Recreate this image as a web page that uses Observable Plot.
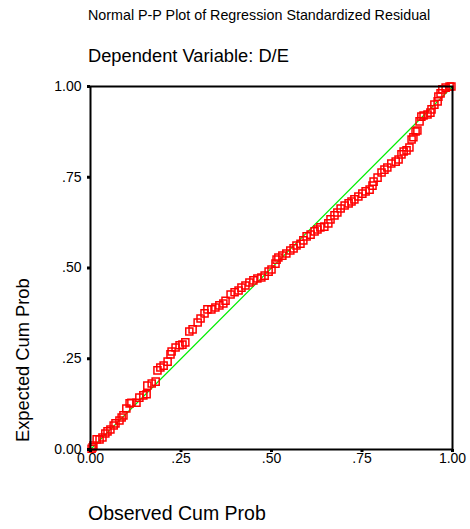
<!DOCTYPE html>
<html><head><meta charset="utf-8">
<script src="https://cdn.jsdelivr.net/npm/d3@7"></script>
<script src="https://cdn.jsdelivr.net/npm/@observablehq/plot@0.6"></script>
<style>body{margin:0;background:#fff;} #c{position:absolute;left:0;top:0;}</style>
</head><body><div id="c"></div>
<script>
const observed = [0.003,0.006,0.008,0.017,0.025,0.033,0.041,0.047,0.055,0.064,0.069,0.080,0.086,0.091,0.099,0.108,0.113,0.127,0.135,0.146,0.155,0.157,0.169,0.180,0.185,0.193,0.202,0.213,0.221,0.224,0.235,0.246,0.254,0.262,0.273,0.282,0.296,0.304,0.315,0.323,0.334,0.345,0.356,0.367,0.373,0.387,0.398,0.409,0.417,0.428,0.439,0.450,0.461,0.472,0.481,0.492,0.500,0.511,0.514,0.519,0.530,0.541,0.552,0.561,0.569,0.580,0.588,0.597,0.608,0.619,0.627,0.635,0.646,0.657,0.663,0.674,0.682,0.691,0.702,0.713,0.721,0.729,0.740,0.751,0.760,0.771,0.779,0.782,0.793,0.804,0.812,0.820,0.831,0.843,0.851,0.859,0.865,0.873,0.881,0.887,0.892,0.898,0.903,0.909,0.914,0.920,0.931,0.939,0.942,0.950,0.959,0.961,0.967,0.972,0.981,0.992,0.997];
const expected = [0.002,0.006,0.011,0.028,0.028,0.033,0.044,0.050,0.055,0.066,0.072,0.080,0.088,0.094,0.113,0.127,0.129,0.129,0.143,0.149,0.152,0.176,0.182,0.187,0.218,0.226,0.231,0.242,0.262,0.270,0.281,0.287,0.289,0.295,0.325,0.331,0.350,0.361,0.375,0.386,0.386,0.391,0.397,0.402,0.410,0.427,0.433,0.438,0.446,0.452,0.460,0.466,0.471,0.474,0.479,0.490,0.496,0.512,0.523,0.529,0.534,0.540,0.548,0.554,0.562,0.567,0.576,0.587,0.592,0.601,0.606,0.612,0.614,0.623,0.634,0.645,0.653,0.664,0.672,0.678,0.683,0.689,0.697,0.705,0.711,0.716,0.727,0.738,0.749,0.763,0.771,0.777,0.788,0.793,0.799,0.813,0.821,0.824,0.832,0.854,0.860,0.876,0.879,0.904,0.917,0.920,0.923,0.928,0.937,0.950,0.959,0.972,0.981,0.992,0.997,1.000,1.000];
const tickValues = [0, 0.25, 0.5, 0.75, 1];
const tickLabels = ["0.00", ".25", ".50", ".75", "1.00"];
const diagonal = [[0,0],[1,1]];
const titleText = "Normal P-P Plot of Regression Standardized Residual";
const subtitleText = "Dependent Variable: D/E";
const xLabel = "Observed Cum Prob";
const yLabel = "Expected Cum Prob";

const pts = observed.map((o, i) => ({o, e: expected[i]}));
const fmt = v => tickLabels[tickValues.indexOf(v)];

const chart = Plot.plot({
  width: 470, height: 529,
  marginLeft: 90, marginRight: 18, marginTop: 86, marginBottom: 80,
  style: {fontFamily: "Liberation Sans, Arial, sans-serif", fontSize: "14px", color: "#000", background: "#fff"},
  x: {domain: [0, 1], ticks: tickValues, tickFormat: fmt, label: null},
  y: {domain: [0, 1], ticks: tickValues, tickFormat: fmt, label: null},
  marks: [
    Plot.line(diagonal, {x: d => d[0], y: d => d[1], stroke: "#00ee00", strokeWidth: 1.2}),
    Plot.dot(pts, {x: "o", y: "e", symbol: "square", r: 4, stroke: "#ff0000", strokeWidth: 1.5, fill: "none"}),
    Plot.frame({stroke: "#000", strokeWidth: 2}),
    Plot.axisX({ticks: tickValues, tickFormat: fmt, tickSize: 3, strokeWidth: 3, tickPadding: 1, fontSize: 14, label: null}),
    Plot.axisY({ticks: tickValues, tickFormat: fmt, tickSize: 3, strokeWidth: 3, tickPadding: 6, fontSize: 14, label: null})
  ]
});
document.getElementById("c").appendChild(chart);
const svg = d3.select(chart);
const addText = (x, y, txt, size, family, transform) => {
  const t = svg.append("text").attr("text-anchor", "start").attr("font-family", family).attr("font-size", size).attr("fill", "#000").text(txt);
  if (transform) t.attr("transform", transform); else t.attr("x", x).attr("y", y);
};
addText(88, 20, titleText, 14.3, "Liberation Sans Narrow, Arial Narrow, sans-serif");
addText(88, 62, subtitleText, 18.3, "Liberation Sans, Arial, sans-serif");
addText(88, 520, xLabel, 19.5, "Liberation Sans, Arial, sans-serif");
addText(0, 0, yLabel, 18.3, "Liberation Sans, Arial, sans-serif", "translate(29,442) rotate(-90)");
</script></body></html>
